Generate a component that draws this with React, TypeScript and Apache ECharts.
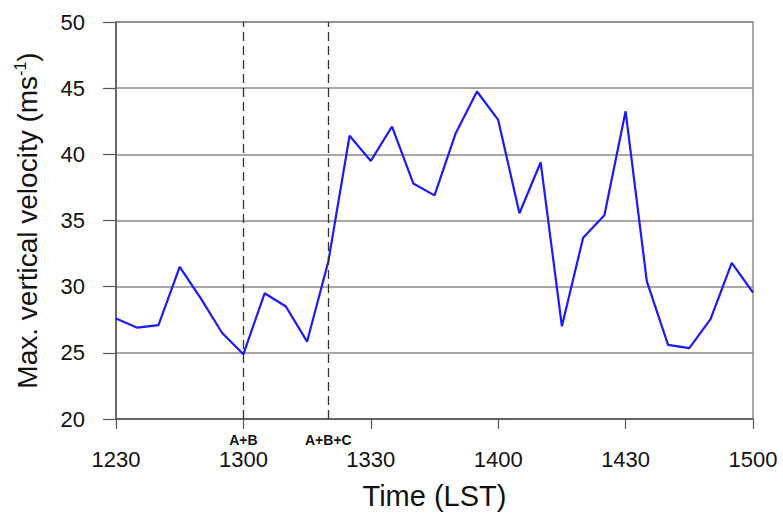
import React, { useEffect, useRef } from "react";
import * as echarts from "echarts";

const times = [
  "1230", "1235", "1240", "1245", "1250", "1255", "1300", "1305", "1310", "1315",
  "1320", "1325", "1330", "1335", "1340", "1345", "1350", "1355", "1400", "1405",
  "1410", "1415", "1420", "1425", "1430", "1435", "1440", "1445", "1450", "1455", "1500",
];
const velocity = [
  27.6, 26.9, 27.1, 31.5, 29.1, 26.5, 24.9, 29.5, 28.5, 25.85,
  31.9, 41.4, 39.5, 42.1, 37.8, 36.9, 41.6, 44.75, 42.6, 35.55,
  39.4, 27.0, 33.7, 35.4, 43.25, 30.4, 25.6, 25.35, 27.55, 31.8, 29.55,
];
const tickLabels = ["1230", "1300", "1330", "1400", "1430", "1500"];
const events = [
  { time: "1300", label: "A+B" },
  { time: "1320", label: "A+B+C" },
];

const toMin = (t: string) => {
  const h = parseInt(t.slice(0, 2), 10);
  const m = parseInt(t.slice(2), 10);
  return h * 60 + m - (12 * 60 + 30);
};

const FONT = "'Liberation Sans', Arial, Helvetica, sans-serif";

export default function App() {
  const ref = useRef<HTMLDivElement>(null);
  useEffect(() => {
    document.body.style.margin = "0";
    const chart = echarts.init(ref.current!, null, { renderer: "svg" });
    chart.setOption({
      animation: false,
      backgroundColor: "#ffffff",
      textStyle: { fontFamily: FONT },
      grid: {
        left: 116,
        right: 30,
        top: 22,
        bottom: 95,
        show: true,
        borderColor: "#8a8a8a",
        borderWidth: 1.5,
      },
      xAxis: {
        type: "value",
        min: 0,
        max: 150,
        interval: 30,
        name: "Time (LST)",
        nameLocation: "middle",
        nameGap: 62,
        nameTextStyle: { fontSize: 29, color: "#111", fontFamily: FONT },
        axisLine: { show: true, onZero: false, lineStyle: { color: "#555", width: 1.5 } },
        axisTick: { show: true, length: 10, lineStyle: { color: "#555", width: 1.2 } },
        splitLine: { show: false },
        axisLabel: {
          margin: 29,
          fontSize: 22,
          color: "#111",
          fontFamily: FONT,
          formatter: (v: number) => tickLabels[Math.round(v / 30)] ?? "",
        },
      },
      yAxis: {
        type: "value",
        min: 20,
        max: 50,
        interval: 5,
        name: "{n|Max. vertical velocity (ms}{s|-1}{n|)}",
        nameLocation: "middle",
        nameGap: 74,
        nameTextStyle: {
          rich: {
            n: { fontSize: 28, color: "#111", fontFamily: FONT },
            s: { fontSize: 16, color: "#111", fontFamily: FONT, verticalAlign: "top", padding: [0, 0, 14, 0] },
          },
        },
        axisLine: { show: true, lineStyle: { color: "#555", width: 1.5 } },
        axisTick: { show: true, length: 13, lineStyle: { color: "#555", width: 1.2 } },
        splitLine: { show: true, lineStyle: { color: "#8a8a8a", width: 1.5 } },
        axisLabel: { margin: 31, fontSize: 22, color: "#111", fontFamily: FONT },
      },
      series: [
        {
          type: "line",
          data: times.map((t, i) => [toMin(t), velocity[i]]),
          symbol: "none",
          lineStyle: { color: "#1a1aff", width: 2.2 },
          markLine: {
            silent: true,
            symbol: ["none", "none"],
            lineStyle: { color: "#333", type: [9, 5], width: 1.3 },
            label: {
              show: true,
              position: "start",
              distance: 14,
              fontSize: 14,
              fontWeight: "bold",
              color: "#111",
              fontFamily: FONT,
              formatter: (p: any) => p.name,
            },
            data: events.map((e) => ({ xAxis: toMin(e.time), name: e.label })),
          },
        },
      ],
    });
    return () => chart.dispose();
  }, []);
  return <div ref={ref} style={{ width: 783, height: 515 }} />;
}
